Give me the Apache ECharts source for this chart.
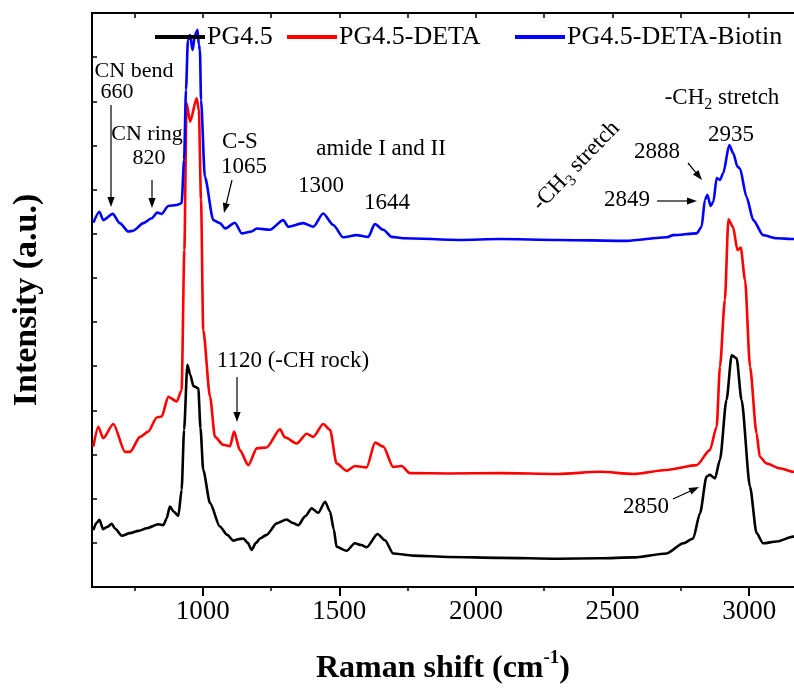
<!DOCTYPE html>
<html>
<head>
<meta charset="utf-8">
<script src="https://cdn.jsdelivr.net/npm/echarts@6/dist/echarts.min.js"></script>
<style>html,body{margin:0;padding:0;background:#fff;overflow:hidden}#c{width:794px;height:692px}</style>
</head>
<body>
<div id="c"></div>
<script>
// ---- data ----
const majorTicks = [1000, 1500, 2000, 2500, 3000];
const minorTicks = [750, 1250, 1750, 2250, 2750];
const allTicks = [750, 1000, 1250, 1500, 1750, 2000, 2250, 2500, 2750, 3000];

const pgX = [600,611,622,636,650,667,680,704,734,765,795,838,856,868,880,895,911,923,932,944,955,966,984,992,1002,1027,1063,1090,1112,1130,1149,1165,1179,1195,1210,1234,1271,1307,1330,1350,1375,1399,1423,1448,1466,1480,1490,1527,1557,1580,1600,1640,1667,1697,1771,1900,2088,2300,2454,2576,2698,2759,2795,2820,2844,2856,2875,2893,2917,2936,2954,2972,3003,3027,3051,3100,3161,3200];
const pgY = [1.29,1.45,1.52,1.31,1.36,1.43,1.32,1.16,1.22,1.27,1.33,1.42,1.40,1.55,1.82,1.70,1.61,2.20,3.56,5.03,4.80,4.55,4.50,3.60,2.65,1.90,1.37,1.18,1.05,1.08,1.10,1.00,0.84,1.00,1.10,1.18,1.44,1.53,1.45,1.40,1.60,1.78,1.68,1.93,1.71,1.30,0.91,0.82,0.99,0.95,0.90,1.20,1.06,0.76,0.71,0.68,0.66,0.64,0.65,0.67,0.76,0.99,1.10,1.67,2.50,2.54,2.46,2.88,4.24,5.25,5.18,4.24,2.27,1.22,0.99,1.03,1.14,1.18];

const detaX = [600,618,636,673,716,734,771,801,832,850,874,905,923,933,941,954,978,986,994,1002,1027,1045,1075,1100,1115,1136,1167,1198,1234,1283,1301,1344,1381,1405,1441,1466,1490,1527,1557,1600,1631,1661,1697,1728,1758,1900,2088,2300,2454,2576,2698,2808,2856,2881,2893,2911,2924,2941,2957,2969,2985,3003,3027,3039,3063,3112,3161,3200];
const detaY = [3.18,3.63,3.37,3.69,3.06,3.06,3.40,3.52,3.84,3.86,4.31,4.20,4.46,7.63,10.96,10.54,11.07,10.80,8.77,5.82,4.31,3.40,3.22,3.19,3.52,3.10,2.76,3.14,3.16,3.57,3.39,3.25,3.47,3.40,3.69,3.56,2.80,2.63,2.74,2.71,3.27,3.18,2.72,2.74,2.58,2.57,2.58,2.56,2.61,2.56,2.65,2.76,3.10,3.63,4.99,6.50,8.33,8.15,7.63,7.69,6.95,4.99,3.48,2.95,2.80,2.69,2.61,2.60];

const biotinX = [600,622,636,671,697,728,746,783,813,834,850,874,905,923,932,939,946,954,963,972,981,986,990,994,1008,1039,1063,1082,1118,1143,1179,1198,1246,1295,1313,1368,1405,1441,1478,1514,1563,1606,1630,1661,1692,1734,1941,2088,2300,2551,2698,2722,2808,2826,2838,2847,2859,2869,2881,2893,2905,2927,2942,2957,2966,2990,3015,3051,3100,3161,3200];
const biotinY = [8.25,8.50,8.31,8.45,8.24,8.05,8.07,8.24,8.35,8.48,8.45,8.63,8.65,8.69,9.67,11.26,12.39,12.50,12.16,12.50,12.62,12.28,12.16,11.03,9.29,8.31,8.24,8.12,8.25,8.01,8.05,8.12,8.09,8.31,8.16,8.24,8.16,8.46,8.20,7.92,7.97,7.93,8.22,8.09,7.93,7.90,7.86,7.88,7.86,7.84,7.92,7.97,8.01,8.16,8.77,8.88,8.63,8.73,9.26,9.22,9.37,10.01,9.82,9.52,9.48,8.84,8.31,7.97,7.90,7.88,7.88];

const seriesNames = ['PG4.5', 'PG4.5-DETA', 'PG4.5-DETA-Biotin'];

// ---- chart ----
const FONT = '"Liberation Serif", "Times New Roman", serif';
const pairs = (xs, ys) => xs.map((x, i) => [x, ys[i]]);

function arrow(x1, y1, x2, y2) {
  const ang = Math.atan2(y2 - y1, x2 - x1);
  const L = 10, W = 3.6;
  const bx = x2 - L * Math.cos(ang), by = y2 - L * Math.sin(ang);
  const px = -Math.sin(ang) * W, py = Math.cos(ang) * W;
  return [
    { type: 'line', shape: { x1: x1, y1: y1, x2: bx, y2: by }, style: { stroke: '#000', lineWidth: 1.2 } },
    { type: 'polygon', shape: { points: [[x2, y2], [bx + px, by + py], [bx - px, by - py]] }, style: { fill: '#000' } }
  ];
}
function label(text, x, y, size) {
  return { type: 'text', x: x, y: y, style: { text: text, font: (size || 23) + 'px ' + FONT, fill: '#000', align: 'center', verticalAlign: 'middle' } };
}

const chart = echarts.init(document.getElementById('c'), null, { renderer: 'canvas' });

const colors = ['#000000', '#ff0000', '#0000ff'];

const legendBase = {
  top: 24, padding: 0, itemWidth: 50, itemHeight: 4, itemGap: 0, icon: 'rect',
  textStyle: { fontFamily: FONT, fontSize: 26, color: '#000', padding: [0, 0, 0, -3] },
  selectedMode: false
};

const graphics = [
  label('CN bend', 134, 71, 22),
  label('660', 117, 92, 22),
  label('CN ring', 147, 134, 22),
  label('820', 149, 158, 22),
  label('C-S', 240, 142),
  label('1065', 244, 167),
  label('amide I and II', 381, 149),
  label('1300', 321, 186),
  label('1644', 387, 203),
  label('1120 (-CH rock)', 293, 361),
  label('2935', 731, 135),
  label('2888', 657, 152),
  label('2849', 627, 200),
  label('2850', 646, 507),
  {
    type: 'text', x: 722, y: 98,
    style: {
      text: '{a|-CH}{s|2}{a| stretch}', align: 'center', verticalAlign: 'middle',
      rich: {
        a: { fontFamily: FONT, fontSize: 23, lineHeight: 30, fill: '#000', color: '#000' },
        s: { fontFamily: FONT, fontSize: 16, lineHeight: 16, verticalAlign: 'bottom', fill: '#000', color: '#000' }
      }
    }
  },
  {
    type: 'text', x: 576, y: 166, rotation: 46 * Math.PI / 180,
    style: {
      text: '{a|-CH}{s|3}{a| stretch}', align: 'center', verticalAlign: 'middle',
      rich: {
        a: { fontFamily: FONT, fontSize: 23, lineHeight: 30, fill: '#000', color: '#000' },
        s: { fontFamily: FONT, fontSize: 16, lineHeight: 16, verticalAlign: 'bottom', fill: '#000', color: '#000' }
      }
    }
  }
].concat(
  arrow(111, 105, 111, 207),
  arrow(152, 180, 152, 208),
  arrow(232, 180, 224, 213),
  arrow(237, 377, 237, 422),
  arrow(688, 163, 702, 180),
  arrow(657, 201, 697, 201),
  arrow(673, 499, 699, 487)
);

const plain = v => String(v);
const X_MIN = 595, X_MAX = 3164;

const option = {
  animation: false,
  backgroundColor: '#fff',
  grid: { left: 92, top: 13, right: 0, bottom: 105, containLabel: false },
  legend: [
    Object.assign({}, legendBase, { left: 155, data: [{ name: seriesNames[0], itemStyle: { color: colors[0] } }] }),
    Object.assign({}, legendBase, { left: 287, data: [{ name: seriesNames[1], itemStyle: { color: colors[1] } }] }),
    Object.assign({}, legendBase, { left: 515, data: [{ name: seriesNames[2], itemStyle: { color: colors[2] } }] })
  ],
  xAxis: [
    {
      type: 'value', min: X_MIN, max: X_MAX, position: 'bottom',
      name: '{b|Raman shift (cm}{sup|-1}{b|)}', nameLocation: 'middle', nameGap: 62,
      nameTextStyle: {
        rich: {
          b: { fontFamily: FONT, fontSize: 32, fontWeight: 'bold', color: '#000', lineHeight: 40 },
          sup: { fontFamily: FONT, fontSize: 19, fontWeight: 'bold', color: '#000', lineHeight: 26, verticalAlign: 'top' }
        }
      },
      axisLine: { show: true, lineStyle: { color: '#000', width: 2 } },
      axisTick: { show: true, inside: false, length: 9, customValues: majorTicks, lineStyle: { color: '#000', width: 2 } },
      axisLabel: { show: true, customValues: majorTicks, formatter: plain, margin: 11, fontFamily: FONT, fontSize: 27, color: '#000' },
      splitLine: { show: false }
    },
    {
      type: 'value', min: X_MIN, max: X_MAX, position: 'top',
      axisLine: { show: true, onZero: false, lineStyle: { color: '#000', width: 2 } },
      axisTick: { show: true, inside: true, length: 5, customValues: allTicks, lineStyle: { color: '#000', width: 1.5 } },
      axisLabel: { show: false },
      splitLine: { show: false }
    },
    {
      type: 'value', min: X_MIN, max: X_MAX, position: 'bottom',
      axisLine: { show: false },
      axisTick: { show: true, inside: false, length: 4, customValues: minorTicks, lineStyle: { color: '#000', width: 1.5 } },
      axisLabel: { show: false },
      splitLine: { show: false }
    }
  ],
  yAxis: [
    {
      type: 'value', min: 0, max: 13, interval: 1, position: 'left',
      name: 'Intensity (a.u.)', nameLocation: 'middle', nameGap: 48,
      nameTextStyle: { fontFamily: FONT, fontSize: 34, fontWeight: 'bold', color: '#000' },
      axisLine: { show: true, lineStyle: { color: '#000', width: 2 } },
      axisTick: { show: true, inside: true, length: 5, lineStyle: { color: '#000', width: 1.5 } },
      axisLabel: { show: false },
      splitLine: { show: false }
    }
  ],
  series: [
    { name: seriesNames[0], type: 'line', data: pairs(pgX, pgY) },
    { name: seriesNames[1], type: 'line', data: pairs(detaX, detaY) },
    { name: seriesNames[2], type: 'line', data: pairs(biotinX, biotinY) }
  ].map((s, i) => Object.assign(s, {
    symbol: 'none', smooth: 0.25, smoothMonotone: 'x', clip: true,
    color: colors[i],
    lineStyle: { color: colors[i], width: 2.6 }
  })),
  graphic: graphics
};
chart.setOption(option);
</script>
</body>
</html>
